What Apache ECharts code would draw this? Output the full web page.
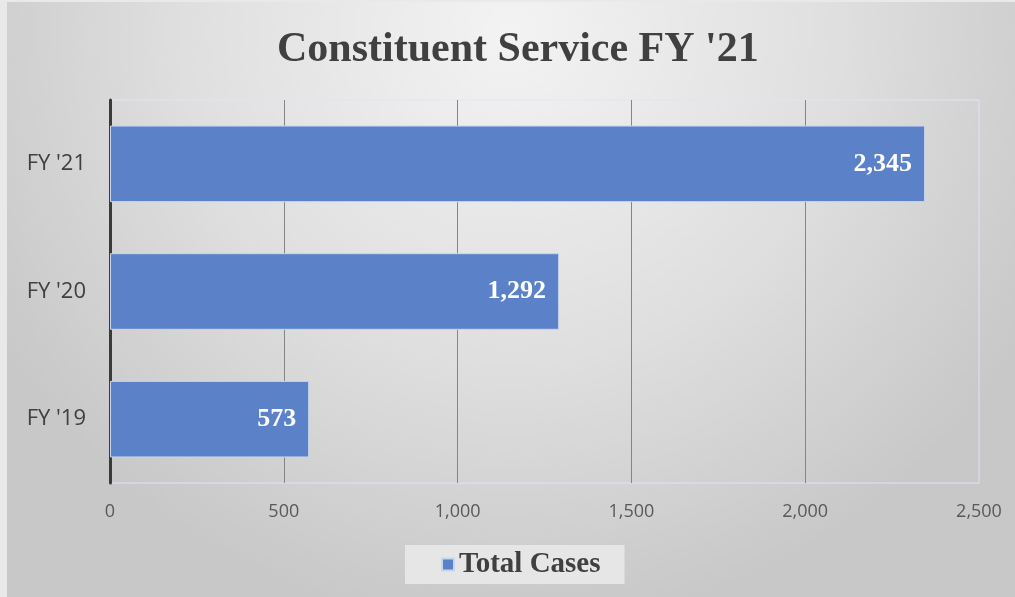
<!DOCTYPE html>
<html>
<head>
<meta charset="utf-8">
<script src="https://cdn.jsdelivr.net/npm/echarts@6/dist/echarts.min.js"></script>
<style>
html,body{margin:0;padding:0;background:#e9e9e9;}
#main{width:1015px;height:597px;}
</style>
</head>
<body>
<div id="main"></div>
<script>
const categories = ["FY '19", "FY '20", "FY '21"];
const totalCases = [573, 1292, 2345];
const xTicks = [0, 500, 1000, 1500, 2000, 2500];
const seriesName = 'Total Cases';
const chartTitle = "Constituent Service FY '21";

const chart = echarts.init(document.getElementById('main'));
chart.setOption({
  animation: false,
  backgroundColor: '#e9e9e9',
  graphic: [{
    type: 'rect',
    z: -10,
    silent: true,
    shape: {x: 7, y: 2, width: 1008, height: 595},
    style: {
      fill: new echarts.graphic.RadialGradient(0.5, 0.05, 1.0, [
        {offset: 0, color: '#f3f3f3'},
        {offset: 0.55, color: '#dfdfdf'},
        {offset: 1, color: '#c8c8c8'}
      ])
    }
  }],
  title: {
    text: chartTitle,
    left: 277,
    top: 29,
    padding: 0,
    textStyle: {
      fontFamily: 'Liberation Serif',
      fontWeight: 'bold',
      fontSize: 42,
      color: '#404040'
    }
  },
  legend: {
    bottom: 13,
    left: 405,
    data: [seriesName],
    icon: 'rect',
    itemWidth: 12,
    itemHeight: 12,
    itemGap: 6,
    backgroundColor: '#e6e6e6',
    padding: [5, 24, 5, 36],
    textStyle: {
      fontFamily: 'Liberation Serif',
      fontWeight: 'bold',
      fontSize: 29,
      color: '#404040'
    }
  },
  grid: {
    left: 110,
    right: 36,
    top: 100,
    bottom: 114,
    show: true,
    borderColor: '#dfe6f2',
    borderWidth: 1,
    backgroundColor: 'transparent'
  },
  xAxis: {
    type: 'value',
    min: 0,
    max: 2500,
    interval: 500,
    axisLine: {show: false},
    axisTick: {show: false},
    splitLine: {show: true, showMinLine: false, showMaxLine: false, lineStyle: {color: '#858585', width: 1}},
    axisLabel: {
      margin: 20,
      fontFamily: 'Open Sans',
      fontSize: 18,
      color: '#595959',
      formatter: v => xTicks.includes(v) ? v.toLocaleString('en-US') : ''
    }
  },
  yAxis: {
    type: 'category',
    data: categories,
    axisLine: {show: true, lineStyle: {color: '#3a3a3a', width: 3}},
    axisTick: {show: false},
    axisLabel: {
      margin: 24,
      fontFamily: 'Open Sans',
      fontSize: 22,
      color: '#404040'
    }
  },
  series: [{
    name: seriesName,
    type: 'bar',
    data: totalCases,
    barCategoryGap: '40%',
    itemStyle: {color: '#5b82c9', borderColor: '#c8d6ef', borderWidth: 1},
    label: {
      show: true,
      position: 'insideRight',
      distance: 13,
      fontFamily: 'Liberation Serif',
      fontWeight: 'bold',
      fontSize: 26,
      color: '#ffffff',
      formatter: p => p.value.toLocaleString('en-US')
    }
  }]
});
</script>
</body>
</html>
